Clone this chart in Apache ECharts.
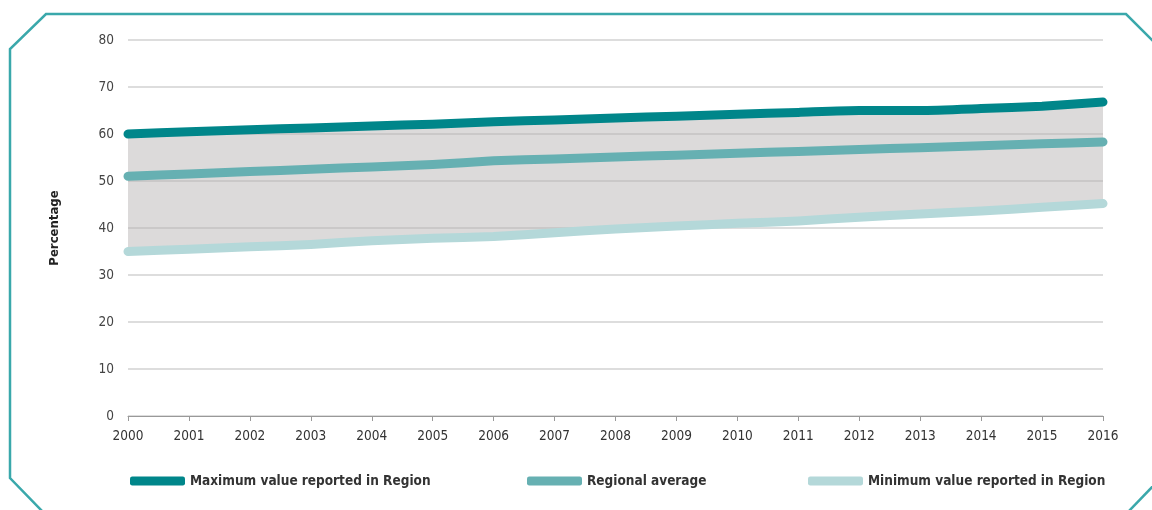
<!DOCTYPE html>
<html>
<head>
<meta charset="utf-8">
<script src="https://cdn.jsdelivr.net/npm/echarts@6/dist/echarts.min.js"></script>
<style>
html,body{margin:0;padding:0;background:#fff;}
#chart{width:1152px;height:510px;}
</style>
</head>
<body>
<div id="chart"></div>
<script>
var years = ['2000','2001','2002','2003','2004','2005','2006','2007','2008','2009','2010','2011','2012','2013','2014','2015','2016'];
var maxValues = [60.0,60.5,60.9,61.3,61.7,62.1,62.6,63.0,63.4,63.8,64.2,64.6,65.0,65.0,65.4,65.9,66.8];
var avgValues = [51.0,51.5,52.0,52.5,53.0,53.5,54.3,54.7,55.1,55.5,55.9,56.3,56.7,57.1,57.5,57.9,58.3];
var minValues = [35.0,35.5,36.0,36.5,37.3,37.8,38.2,39.0,39.8,40.4,41.0,41.5,42.3,43.0,43.6,44.4,45.2];
var seriesNames = ['Maximum value reported in Region','Regional average','Minimum value reported in Region'];
var yTicks = [0,10,20,30,40,50,60,70,80];

var FONT = "'Liberation Sans Narrow','DejaVu Sans Condensed',sans-serif";
var cMax = '#00868a', cAvg = '#66b0b2', cMin = '#b4d8d9';
var bandValues = maxValues.map(function(v,i){return +(v - minValues[i]).toFixed(2);});
var SM = 0.2;

var chart = echarts.init(document.getElementById('chart'), null, {renderer:'canvas'});
function legendFor(name, left){
  return {
    data:[name], left:left, top:469, icon:'roundRect', itemWidth:55, itemHeight:9, itemGap:10,
    textStyle:{fontFamily:FONT, fontSize:13.5, fontWeight:'bold', color:'#333'}, selectedMode:false
  };
}
chart.setOption({
  animation:false,
  backgroundColor:'#fff',
  grid:{left:128, right:49, top:40, bottom:94, containLabel:false},
  legend:[legendFor(seriesNames[0],125), legendFor(seriesNames[1],522), legendFor(seriesNames[2],803)],
  xAxis:{
    type:'category', data:years, boundaryGap:false,
    axisLine:{lineStyle:{color:'#999', width:1}},
    axisTick:{show:true, length:5, lineStyle:{color:'#999'}},
    axisLabel:{fontFamily:FONT, fontSize:13.5, color:'#333', margin:13},
    splitLine:{show:false}
  },
  yAxis:{
    type:'value', min:yTicks[0], max:yTicks[yTicks.length-1], interval:10,
    name:'Percentage', nameLocation:'middle', nameRotate:90, nameGap:67,
    nameTextStyle:{fontFamily:FONT, fontSize:13, fontWeight:'bold', color:'#222'},
    axisLine:{show:false}, axisTick:{show:false},
    axisLabel:{fontFamily:FONT, fontSize:13.5, color:'#444', margin:14},
    splitLine:{lineStyle:{color:'#d2d2d2', width:1.5}}
  },
  graphic:[
    {type:'polyline', silent:true, shape:{points:[[43,512],[10,478],[10,49],[46,14],[1126,14],[1160,48]]},
     style:{stroke:'#3aa8ab', lineWidth:2.5, fill:null}},
    {type:'polyline', silent:true, shape:{points:[[1156,483],[1129,511]]},
     style:{stroke:'#3aa8ab', lineWidth:2.5, fill:null}}
  ],
  series:[
    {name:'base', type:'line', stack:'band', data:minValues, smooth:SM, symbol:'none',
     lineStyle:{width:0, opacity:0}, silent:true, z:1},
    {name:'band', type:'line', stack:'band', data:bandValues, smooth:SM, symbol:'none',
     lineStyle:{width:0, opacity:0}, areaStyle:{color:'rgba(182,178,178,0.48)', opacity:1}, silent:true, z:1},
    {name:seriesNames[2], type:'line', data:minValues, smooth:SM, symbol:'none', z:3,
     lineStyle:{color:cMin, width:9, cap:'round', join:'round'}, itemStyle:{color:cMin}},
    {name:seriesNames[1], type:'line', data:avgValues, smooth:SM, symbol:'none', z:3,
     lineStyle:{color:cAvg, width:9, cap:'round', join:'round'}, itemStyle:{color:cAvg}},
    {name:seriesNames[0], type:'line', data:maxValues, smooth:SM, symbol:'none', z:4,
     lineStyle:{color:cMax, width:9, cap:'round', join:'round'}, itemStyle:{color:cMax}}
  ]
});
</script>
</body>
</html>
